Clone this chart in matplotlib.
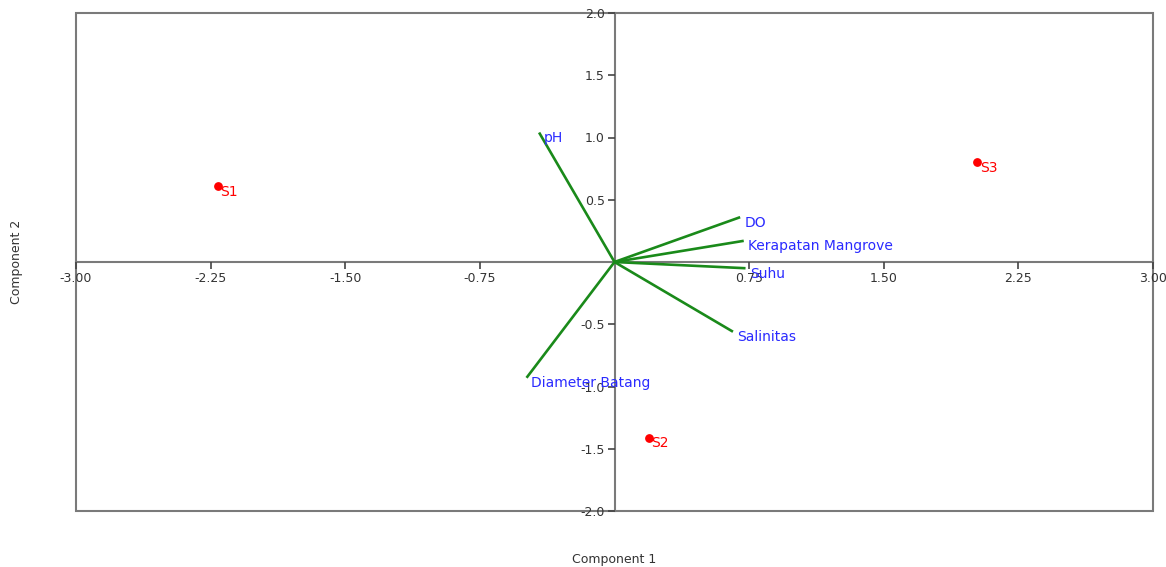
import matplotlib
matplotlib.use("Agg")
import matplotlib.pyplot as plt
from matplotlib.patches import Rectangle

# --- data ---
site_names = ["S1", "S2", "S3"]
site_x = [-2.21, 0.19, 2.02]
site_y = [0.61, -1.41, 0.80]

var_names = ["pH", "DO", "Kerapatan Mangrove", "Suhu", "Salinitas", "Diameter Batang"]
var_x = [-0.42, 0.70, 0.72, 0.73, 0.66, -0.49]
var_y = [1.04, 0.36, 0.17, -0.05, -0.56, -0.93]

x_ticks = [-3.00, -2.25, -1.50, -0.75, 0.75, 1.50, 2.25, 3.00]
y_ticks = [-2.0, -1.5, -1.0, -0.5, 0.5, 1.0, 1.5, 2.0]

GRAY = "#7a7a7a"

fig = plt.figure(figsize=(11.66, 5.67), dpi=100)
ax = fig.add_axes([76 / 1166, 56 / 567, 1077 / 1166, 498 / 567])
ax.set_xlim(-3, 3)
ax.set_ylim(-2, 2)

# axes through the origin
for side in ["top", "right"]:
    ax.spines[side].set_visible(False)
ax.spines["left"].set_position("zero")
ax.spines["bottom"].set_position("zero")
for side in ["left", "bottom"]:
    ax.spines[side].set_color(GRAY)
    ax.spines[side].set_linewidth(1.5)
    ax.spines[side].set_zorder(1)

# outer frame
ax.add_patch(Rectangle((0, 0), 1, 1, transform=ax.transAxes, fill=False,
                       edgecolor=GRAY, linewidth=1.5, clip_on=False, zorder=1))

ax.set_xticks(x_ticks)
ax.set_xticklabels([f"{t:.2f}" for t in x_ticks])
ax.set_yticks(y_ticks)
ax.set_yticklabels([f"{t:.1f}" for t in y_ticks])
ax.tick_params(axis="both", direction="out", length=5, width=1.2, color="#444444",
               labelsize=9, labelcolor="#333333", pad=2)

# loading vectors
for name, vx, vy in zip(var_names, var_x, var_y):
    ax.plot([0, vx], [0, vy], color="#1a8a1a", linewidth=1.9, zorder=3,
            solid_capstyle="butt")
    ax.annotate(name, (vx, vy), xytext=(3, -4), textcoords="offset points",
                color="#2a2aff", fontsize=10, ha="left", va="center", zorder=4)

# site scores
ax.scatter(site_x, site_y, s=28, color="red", zorder=5)
for name, sx, sy in zip(site_names, site_x, site_y):
    ax.annotate(name, (sx, sy), xytext=(2, -4), textcoords="offset points",
                color="red", fontsize=10, ha="left", va="center", zorder=5)

fig.text(614 / 1166, 1 - 559 / 567, "Component 1", ha="center", va="center",
         fontsize=9, color="#333333")
fig.text(17 / 1166, 1 - 262 / 567, "Component 2", ha="center", va="center",
         rotation=90, fontsize=9, color="#333333")

fig.savefig("out.png", dpi=100)
